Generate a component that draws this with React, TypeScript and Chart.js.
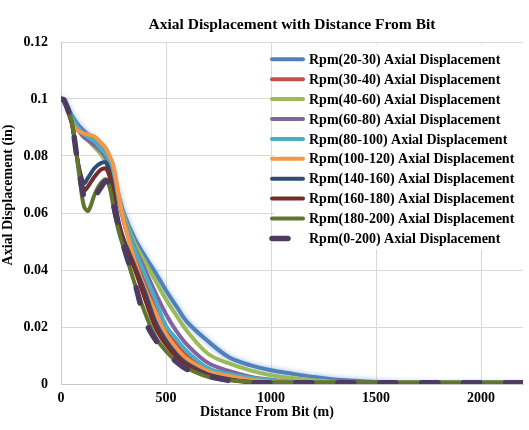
import React, { useEffect, useRef } from 'react';
import { Chart, registerables } from 'chart.js';

Chart.register(...registerables);

const chartTitle = 'Axial Displacement with Distance From Bit';
const xAxisTitle = 'Distance From Bit (m)';
const yAxisTitle = 'Axial Displacement (in)';

const distances = [0, 15, 50, 75, 90, 110, 130, 160, 190, 215, 235, 250, 275, 300, 350, 400, 450, 500, 550, 600, 700, 800, 900, 1000, 1100, 1200, 1300, 1400, 1500, 1600, 1800, 2000, 2200];

const seriesLabels = [
  'Rpm(20-30) Axial Displacement',
  'Rpm(30-40) Axial Displacement',
  'Rpm(40-60) Axial Displacement',
  'Rpm(60-80) Axial Displacement',
  'Rpm(80-100) Axial Displacement',
  'Rpm(100-120) Axial Displacement',
  'Rpm(140-160) Axial Displacement',
  'Rpm(160-180) Axial Displacement',
  'Rpm(180-200) Axial Displacement',
  'Rpm(0-200) Axial Displacement',
];

const seriesColors = ['#4F81BD', '#C0504D', '#9BBB59', '#8064A2', '#4BACC6', '#F79646', '#2C4D75', '#772C2A', '#5F7530', '#4D3B62'];

const rpm20to30 = [0.1, 0.0995, 0.0945, 0.0915, 0.0902, 0.0887, 0.0875, 0.0856, 0.0832, 0.0802, 0.0765, 0.0728, 0.0662, 0.0598, 0.0512, 0.0448, 0.039, 0.0328, 0.0272, 0.0218, 0.015, 0.0094, 0.0066, 0.0048, 0.0036, 0.0025, 0.0016, 0.0011, 0.0007, 0.0003, 0, 0, 0];
const rpm30to40 = [0.1, 0.0994, 0.0928, 0.0898, 0.0886, 0.0874, 0.0866, 0.0853, 0.0833, 0.0808, 0.0772, 0.0735, 0.0648, 0.0565, 0.0448, 0.0355, 0.0272, 0.0192, 0.0138, 0.0098, 0.0048, 0.0029, 0.0017, 0.0009, 0.0004, 0.0001, 0, 0, 0, 0, 0, 0, 0];
const rpm40to60 = [0.1, 0.0994, 0.0935, 0.0898, 0.0884, 0.0866, 0.0853, 0.083, 0.0806, 0.0778, 0.0745, 0.0715, 0.0652, 0.0588, 0.0495, 0.0428, 0.0362, 0.0297, 0.024, 0.0186, 0.0106, 0.0072, 0.0048, 0.0031, 0.0021, 0.0013, 0.0008, 0.0004, 0.0001, 0, 0, 0, 0];
const rpm60to80 = [0.1, 0.0994, 0.0932, 0.0898, 0.0883, 0.0866, 0.0855, 0.0838, 0.0818, 0.0793, 0.0757, 0.0722, 0.0648, 0.0578, 0.048, 0.04, 0.032, 0.0245, 0.0185, 0.0138, 0.0074, 0.0046, 0.0026, 0.0015, 0.0008, 0.0003, 0, 0, 0, 0, 0, 0, 0];
const rpm80to100 = [0.1, 0.0995, 0.0938, 0.0906, 0.0892, 0.0876, 0.0866, 0.0851, 0.0826, 0.0805, 0.0772, 0.0738, 0.0652, 0.0575, 0.0475, 0.0383, 0.0295, 0.0205, 0.0158, 0.0115, 0.0056, 0.0035, 0.0022, 0.0013, 0.0007, 0.0002, 0, 0, 0, 0, 0, 0, 0];
const rpm100to120 = [0.1, 0.0993, 0.092, 0.0893, 0.0885, 0.0879, 0.0875, 0.0868, 0.0847, 0.0826, 0.0795, 0.0765, 0.0662, 0.0568, 0.0435, 0.0335, 0.0252, 0.0175, 0.0125, 0.0088, 0.0045, 0.0028, 0.0015, 0.0008, 0.0003, 0, 0, 0, 0, 0, 0, 0, 0];
const rpm140to160 = [0.1, 0.0993, 0.092, 0.0805, 0.0745, 0.0705, 0.0725, 0.0758, 0.0775, 0.0776, 0.0732, 0.067, 0.0568, 0.0505, 0.0415, 0.0322, 0.0218, 0.0152, 0.0105, 0.0072, 0.0034, 0.0017, 0.0007, 0.0002, 0, 0, 0, 0, 0, 0, 0, 0, 0];
const rpm160to180 = [0.1, 0.0993, 0.092, 0.08, 0.0738, 0.068, 0.0695, 0.0728, 0.0752, 0.0755, 0.0718, 0.0655, 0.0558, 0.0495, 0.0405, 0.0298, 0.0198, 0.0138, 0.0095, 0.0065, 0.003, 0.0015, 0.0006, 0.0002, 0, 0, 0, 0, 0, 0, 0, 0, 0];
const rpm180to200 = [0.1, 0.0993, 0.0925, 0.08, 0.0715, 0.0622, 0.0608, 0.0665, 0.0705, 0.0718, 0.068, 0.062, 0.0535, 0.0475, 0.0355, 0.025, 0.0165, 0.0115, 0.008, 0.0055, 0.0025, 0.0013, 0.0008, 0.0006, 0.0006, 0.0006, 0.0006, 0.0006, 0.0006, 0.0006, 0.0006, 0.0006, 0.0006];
const rpm0to200 = [0.1, 0.0996, 0.092, 0.08, 0.073, 0.0655, 0.0632, 0.0655, 0.069, 0.0712, 0.0695, 0.063, 0.055, 0.048, 0.036, 0.0225, 0.0155, 0.011, 0.0078, 0.0052, 0.0028, 0.0012, 0.0005, 0.0004, 0.0004, 0.0004, 0.0004, 0.0004, 0.0004, 0.0004, 0.0004, 0.0004, 0.0004];

const seriesValues = [rpm20to30, rpm30to40, rpm40to60, rpm60to80, rpm80to100, rpm100to120, rpm140to160, rpm160to180, rpm180to200, rpm0to200];

const xTicks = [0, 500, 1000, 1500, 2000];
const yTicks = [0, 0.02, 0.04, 0.06, 0.08, 0.1, 0.12];

const FONT = '"Liberation Serif", "Times New Roman", serif';

const overlayPlugin = {
  id: 'overlay',
  beforeDatasetDraw(chart: any, args: any) {
    if (args.index === 0) {
      const ctx = chart.ctx;
      ctx.save();
      ctx.shadowColor = 'rgba(90,140,205,0.65)';
      ctx.shadowBlur = 5;
      ctx.shadowOffsetX = 0;
      ctx.shadowOffsetY = 0;
    }
  },
  afterDatasetDraw(chart: any, args: any) {
    if (args.index === 0) chart.ctx.restore();
  },
  afterDraw(chart: any) {
    const ctx = chart.ctx;
    const ca = chart.chartArea;
    ctx.save();
    ctx.fillStyle = '#000';
    ctx.font = `bold 14px ${FONT}`;
    ctx.textAlign = 'center';
    ctx.textBaseline = 'middle';
    ctx.fillText(xAxisTitle, ca.left + 206, ca.bottom + 28);
    ctx.save();
    ctx.translate(8, ca.top + 153);
    ctx.rotate(-Math.PI / 2);
    ctx.fillText(yAxisTitle, 0, 0);
    ctx.restore();

    // legend inside plot area
    ctx.fillStyle = '#fff';
    ctx.fillRect(ca.left + 213, ca.top + 2, ca.right - ca.left - 213, 205);
    chart.data.datasets.forEach((ds: any, i: number) => {
      const y = ca.top + 17.3 + i * 19.9;
      ctx.beginPath();
      ctx.strokeStyle = ds.borderColor;
      ctx.lineWidth = ds.borderWidth;
      ctx.lineCap = 'round';
      ctx.setLineDash(ds.borderDash || []);
      ctx.moveTo(ca.left + 211, y);
      ctx.lineTo(ca.left + 242, y);
      ctx.stroke();
      ctx.setLineDash([]);
      ctx.fillStyle = '#000';
      ctx.textAlign = 'left';
      ctx.textBaseline = 'middle';
      ctx.fillText(ds.label, ca.left + 248, y + 1);
    });
    ctx.restore();
  },
};

export default function App() {
  const ref = useRef<HTMLCanvasElement>(null);
  useEffect(() => {
    document.body.style.margin = '0';
    const canvas = ref.current;
    if (!canvas) return;
    const datasets = seriesValues.map((vals, i) => ({
      label: seriesLabels[i],
      data: vals.map((v, j) => ({ x: distances[j], y: v })),
      borderColor: seriesColors[i],
      backgroundColor: seriesColors[i],
      borderWidth: i === 9 ? 5.5 : 4,
      borderDash: i === 9 ? [16, 26] : [],
      borderCapStyle: 'round' as const,
      borderJoinStyle: 'round' as const,
      pointRadius: 0,
      pointHoverRadius: 0,
      tension: 0.35,
      fill: false,
      order: seriesValues.length - 1 - i,
    }));
    const chart = new Chart(canvas, {
      type: 'line',
      data: { datasets },
      plugins: [overlayPlugin],
      options: {
        responsive: false,
        animation: false,
        layout: { padding: { left: 0, right: 6, top: 0, bottom: 0 } },
        plugins: {
          legend: { display: false },
          tooltip: { enabled: false },
          title: {
            display: true,
            text: chartTitle,
            color: '#000',
            fullSize: false,
            font: { family: FONT, size: 15.5, weight: 'bold' },
            padding: { top: 16, bottom: 7.4 },
          },
        },
        scales: {
          x: {
            type: 'linear',
            min: 0,
            max: 2200,
            afterFit: (s: any) => { s.height = 46; },
            afterBuildTicks: (s: any) => { s.ticks = xTicks.map((v) => ({ value: v })); },
            ticks: {
              color: '#000',
              padding: 6,
              font: { family: FONT, size: 14, weight: 'bold' },
              callback: (v: any) => String(v),
            },
            grid: { color: '#d9d9d9', drawTicks: false },
            border: { color: '#c8c8c8' },
          },
          y: {
            type: 'linear',
            min: 0,
            max: 0.12,
            afterFit: (s: any) => { s.width = 61; },
            afterBuildTicks: (s: any) => { s.ticks = yTicks.map((v) => ({ value: v })); },
            ticks: {
              color: '#000',
              padding: 13,
              font: { family: FONT, size: 14, weight: 'bold' },
              callback: (v: any) => String(Number(Number(v).toFixed(2))),
            },
            grid: { color: '#d9d9d9', drawTicks: false },
            border: { color: '#c8c8c8' },
          },
        },
      },
    });
    return () => chart.destroy();
  }, []);
  return (
    <div style={{ width: 529, height: 430 }}>
      <canvas ref={ref} width={529} height={430} />
    </div>
  );
}
